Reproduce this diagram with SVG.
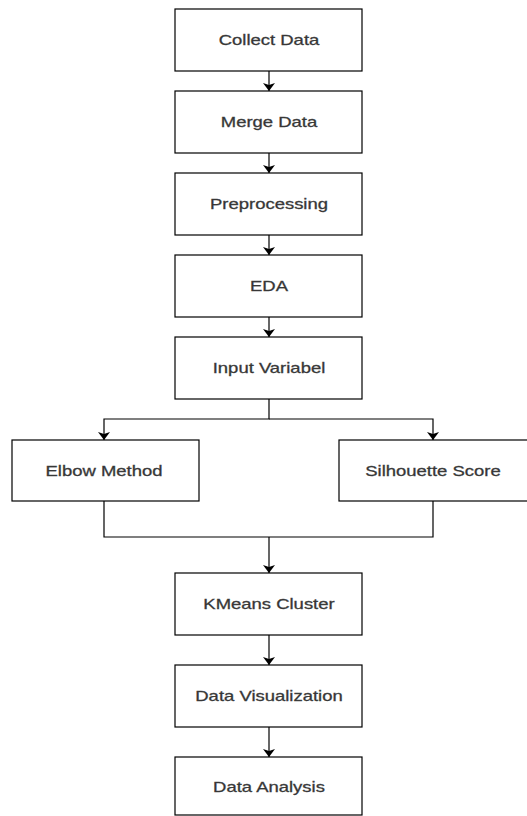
<svg xmlns="http://www.w3.org/2000/svg" width="527" height="816" viewBox="0 0 527 816">
<style>
.box{fill:#fff;stroke:#000;stroke-width:1.2}
.t{font-family:"Liberation Sans",Arial,sans-serif;font-size:14px;fill:#333;stroke:#444;stroke-width:0.3;text-anchor:middle;dominant-baseline:central}
.c{fill:none;stroke:#000;stroke-width:1.2}
</style>
<defs>
<marker id="a" viewBox="0 0 8 12" refX="8" refY="6" markerWidth="8" markerHeight="12" markerUnits="userSpaceOnUse" orient="auto">
<path d="M0,0 L8,6 L0,12 L2,6 z" fill="#000"/>
</marker>
</defs>
<rect width="527" height="816" fill="#fff"/>
<g id="connectors">
<path class="c" d="M269,71 V91" marker-end="url(#a)"/>
<path class="c" d="M269,153 V173" marker-end="url(#a)"/>
<path class="c" d="M269,235 V255" marker-end="url(#a)"/>
<path class="c" d="M269,317 V337" marker-end="url(#a)"/>
<path class="c" d="M269,399 V419 H104 V440" marker-end="url(#a)"/>
<path class="c" d="M269,419 H433 V440" marker-end="url(#a)"/>
<path class="c" d="M104,501 V537 H433 V501"/>
<path class="c" d="M269,537 V573" marker-end="url(#a)"/>
<path class="c" d="M269,635 V665" marker-end="url(#a)"/>
<path class="c" d="M269,727 V757" marker-end="url(#a)"/>
</g>
<g id="collect"><rect class="box" x="175" y="9" width="187" height="62"/><text class="t" transform="translate(269,40) scale(1.32,1)">Collect Data</text></g>
<g id="merge"><rect class="box" x="175" y="91" width="187" height="62"/><text class="t" transform="translate(269,122) scale(1.32,1)">Merge Data</text></g>
<g id="preprocessing"><rect class="box" x="175" y="173" width="187" height="62"/><text class="t" transform="translate(269,204) scale(1.32,1)">Preprocessing</text></g>
<g id="eda"><rect class="box" x="175" y="255" width="187" height="62"/><text class="t" transform="translate(269,286) scale(1.32,1)">EDA</text></g>
<g id="input"><rect class="box" x="175" y="337" width="187" height="62"/><text class="t" transform="translate(269,368) scale(1.32,1)">Input Variabel</text></g>
<g id="elbow"><rect class="box" x="12" y="440" width="187" height="61"/><text class="t" transform="translate(104,470.5) scale(1.32,1)">Elbow Method</text></g>
<g id="silhouette"><rect class="box" x="339" y="440" width="194" height="61"/><text class="t" transform="translate(433,470.5) scale(1.32,1)">Silhouette Score</text></g>
<g id="kmeans"><rect class="box" x="175" y="573" width="187" height="62"/><text class="t" transform="translate(269,604) scale(1.32,1)">KMeans Cluster</text></g>
<g id="visualization"><rect class="box" x="175" y="665" width="187" height="62"/><text class="t" transform="translate(269,696) scale(1.32,1)">Data Visualization</text></g>
<g id="analysis"><rect class="box" x="175" y="757" width="187" height="58"/><text class="t" transform="translate(269,787) scale(1.32,1)">Data Analysis</text></g>
</svg>
